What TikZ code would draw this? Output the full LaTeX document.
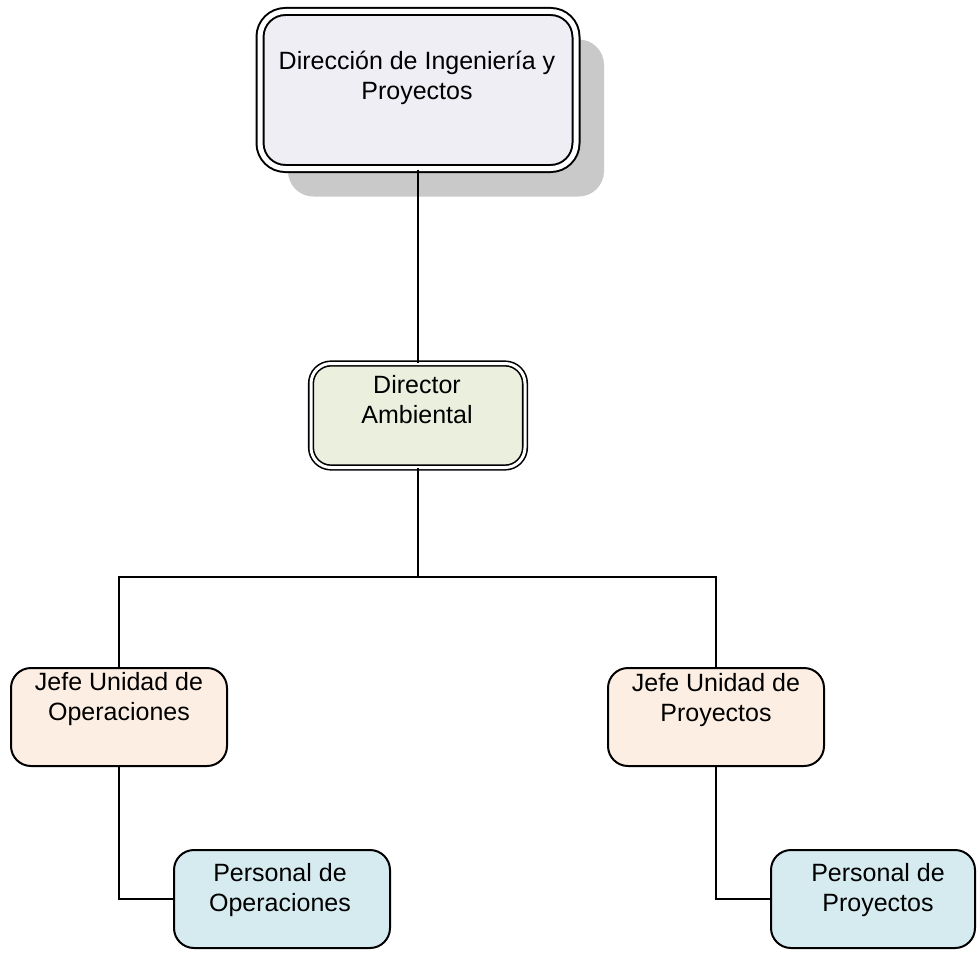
\documentclass[tikz,border=0pt]{standalone}
\usepackage{fontspec}
\setmainfont{Liberation Sans}
\usetikzlibrary{shadows}

\definecolor{lila}{HTML}{F0EEF5}
\definecolor{verdoso}{HTML}{EBF0DE}
\definecolor{durazno}{HTML}{FDEEE3}
\definecolor{celeste}{HTML}{D6EBF0}

\begin{document}
\begin{tikzpicture}[x=0.75pt, y=-0.75pt,
        caja/.style={draw, line width=1.5pt, inner sep=0pt, rounded corners=15pt},
        doble/.style={caja, double=white},
        texto/.style={align=center, inner sep=0pt, font=\fontsize{18.75}{22.5}\selectfont},
        linea/.style={line width=1.5pt}]
        \useasboundingbox (0,0) rectangle (977,956);
        % cajas
        \node[doble, double distance=3.75pt, rounded corners=19pt, fill=lila,
              minimum width=237pt, minimum height=117.75pt,
              drop shadow={shadow xshift=21pt, shadow yshift=-21pt, fill=black!21, opacity=1}]
              (dir) at (418, 90) {};
        \node[doble, line width=1.2pt, double distance=2.25pt, fill=verdoso,
              minimum width=160.5pt, minimum height=78pt] (amb) at (418, 415.5) {};
        \node[caja, fill=durazno, minimum width=162pt, minimum height=73.5pt] (jop) at (119, 717) {};
        \node[caja, fill=durazno, minimum width=162pt, minimum height=73.5pt] (jpr) at (716, 717) {};
        \node[caja, fill=celeste, minimum width=162pt, minimum height=73.5pt] (pop) at (282, 899) {};
        \node[caja, fill=celeste, minimum width=153pt, minimum height=73.5pt] (ppr) at (873, 899) {};
        % textos
        \node[texto] (dirtxt) at (417, 78)  {Dirección de Ingeniería y\\Proyectos};
        \node[texto] (ambtxt) at (417, 400) {Director\\Ambiental};
        \node[texto] (joptxt) at (119, 699) {Jefe Unidad de\\Operaciones};
        \node[texto] (jprtxt) at (716, 700) {Jefe Unidad de\\Proyectos};
        \node[texto] (poptxt) at (280, 890) {Personal de\\Operaciones};
        \node[texto] (pprtxt) at (878, 890) {Personal de\\Proyectos};
        % conectores
        \coordinate (j) at (418, 577);
        \draw[linea] (dir.south) -- (amb.north);
        \draw[linea] (amb.south) -- (j);
        \draw[linea] (j) -| (jop.north);
        \draw[linea] (j) -| (jpr.north);
        \draw[linea] (jop.south) |- (pop.west);
        \draw[linea] (jpr.south) |- (ppr.west);
    \end{tikzpicture}
\end{document}
